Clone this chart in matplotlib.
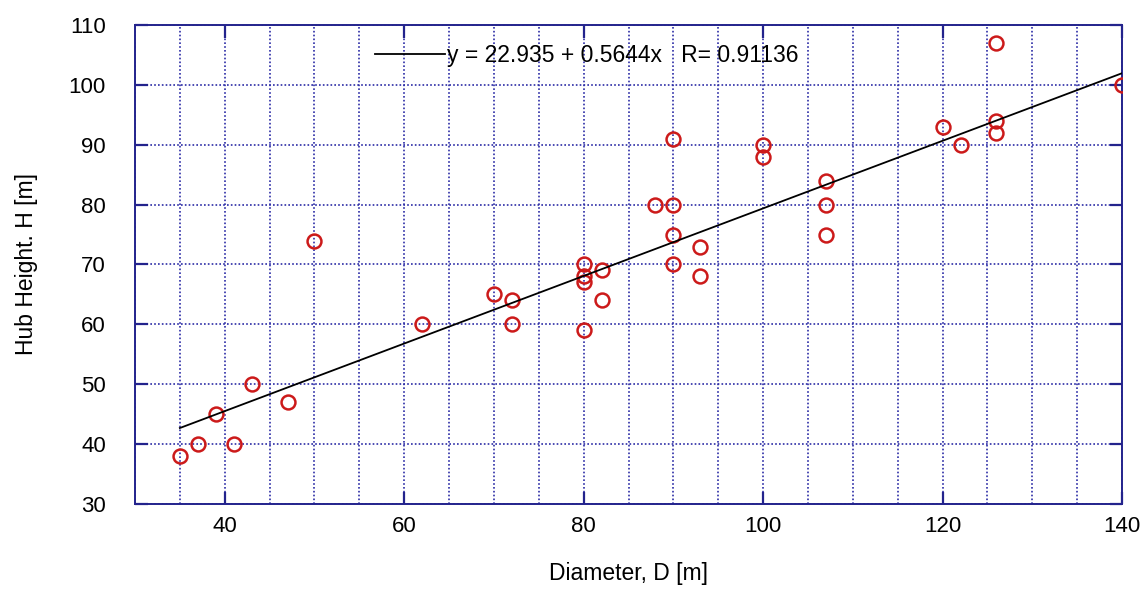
import numpy as np
import matplotlib
matplotlib.use("Agg")
import matplotlib.pyplot as plt
from matplotlib.ticker import MultipleLocator

plt.rcParams['font.family'] = ['Liberation Sans', 'DejaVu Sans']

# Rotor diameter vs hub height for a set of turbines
diameter = [35, 37, 39, 41, 43, 47, 50, 62, 70, 72, 72, 80, 80, 80, 80, 82, 82,
            88, 90, 90, 90, 90, 93, 93, 100, 100, 107, 107, 107, 120, 122,
            126, 126, 126, 140]
hub_height = [38, 40, 45, 40, 50, 47, 74, 60, 65, 64, 60, 70, 68, 67, 59, 69, 64,
              80, 91, 80, 75, 70, 73, 68, 90, 88, 84, 80, 75, 93, 90,
              107, 94, 92, 100]

# Linear fit coefficients
fit_intercept = 22.935
fit_slope = 0.5644
fit_r = 0.91136

navy = '#23238c'
grid_blue = '#2c2ca6'

fig = plt.figure(figsize=(11.48, 5.90), dpi=100)
ax = fig.add_axes([0.1176, 0.1458, 0.8598, 0.8118])

ax.set_xlim(30, 140)
ax.set_ylim(30, 110)

ax.plot(diameter, hub_height, linestyle='none', marker='o', markersize=10,
        markerfacecolor='none', markeredgecolor='#cc1a1a', markeredgewidth=1.8,
        zorder=3)

xfit = np.array([min(diameter), max(diameter)])
yfit = fit_intercept + fit_slope * xfit
ax.plot(xfit, yfit, color='black', linewidth=1.3, zorder=4,
        label=f'y = {fit_intercept} + {fit_slope}x   R= {fit_r}')

ax.xaxis.set_major_locator(MultipleLocator(20))
ax.xaxis.set_minor_locator(MultipleLocator(5))
ax.yaxis.set_major_locator(MultipleLocator(10))

ax.grid(which='major', axis='both', linestyle=(0, (1, 1.3)), color=grid_blue, linewidth=1.2)
ax.grid(which='minor', axis='x', linestyle=(0, (1, 1.3)), color=grid_blue, linewidth=1.2)

for s in ax.spines.values():
    s.set_color(navy)
    s.set_linewidth(1.4)

ax.tick_params(which='major', direction='in', length=9, width=1.6, color=navy,
               top=True, right=True, labelsize=16)
ax.tick_params(axis='x', which='major', pad=9)
ax.tick_params(axis='y', which='major', pad=21)
ax.tick_params(which='minor', length=0)

ax.set_xlabel('Diameter, D [m]', fontsize=16.5, va='center')
ax.set_ylabel('Hub Height. H [m]', fontsize=16.5, va='center')
ax.xaxis.set_label_coords(0.5, -0.146)
ax.yaxis.set_label_coords(-0.110, 0.5)

ax.legend(loc='center left', bbox_to_anchor=(0.243, 0.937), frameon=False,
          borderpad=0, borderaxespad=0, handlelength=3.05, handletextpad=0.1,
          fontsize=16.5)

fig.savefig('out.png', dpi=100, facecolor='white')
